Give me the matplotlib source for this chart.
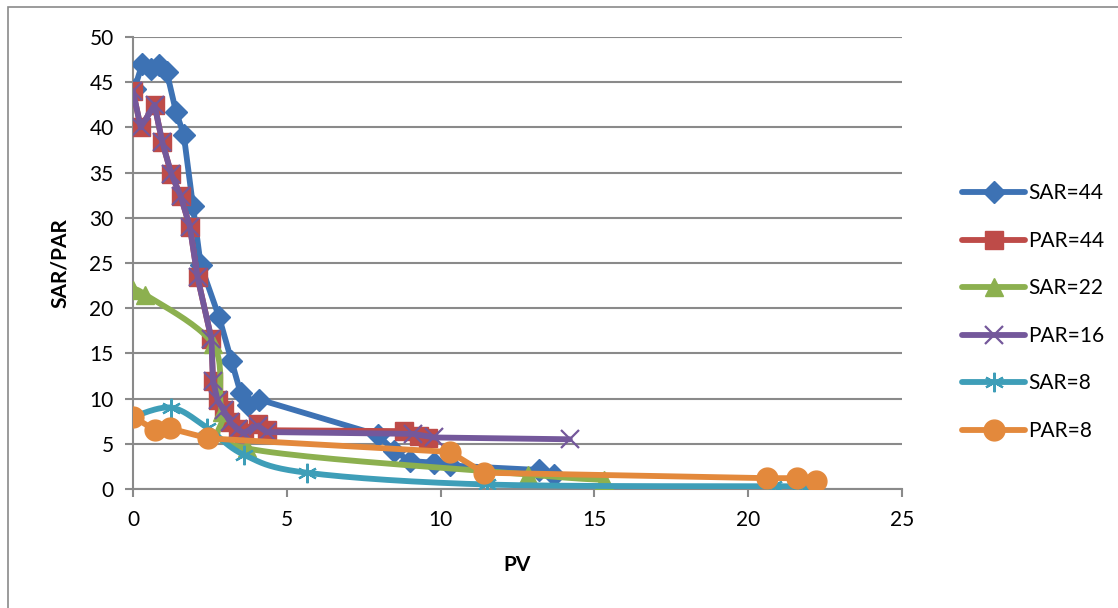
import numpy as np
import matplotlib

matplotlib.use("Agg")
import matplotlib.pyplot as plt
from matplotlib.patches import Rectangle

plt.rcParams["font.family"] = ["Lato", "DejaVu Sans"]

# --- data ------------------------------------------------------------------
sar44_x = [0.05, 0.3, 0.6, 0.85, 1.1, 1.4, 1.65, 1.95, 2.2, 2.8, 3.2, 3.5, 3.75,
           4.1, 7.95, 8.5, 9.0, 9.8, 10.3, 13.2, 13.7]
sar44_y = [44.3, 47.0, 46.5, 46.9, 46.1, 41.7, 39.2, 31.3, 24.8, 19.0, 14.2, 10.6,
           9.3, 9.9, 6.0, 4.2, 3.1, 2.9, 2.6, 2.1, 1.6]

par44_x = [0, 0.25, 0.7, 0.95, 1.25, 1.55, 1.85, 2.1, 2.55, 2.6, 2.75, 2.95, 3.15,
           3.4, 3.6, 4.05, 4.35, 8.8, 9.3, 9.6]
par44_y = [44, 40, 42.5, 38.4, 34.8, 32.4, 29.0, 23.4, 16.6, 12.0, 9.8, 8.7, 7.4,
           6.6, 6.2, 7.2, 6.5, 6.4, 5.9, 5.6]

sar22_x = [0, 0.4, 2.6, 2.9, 3.7, 12.85, 15.3]
sar22_y = [22, 21.5, 16.0, 8.5, 4.5, 1.6, 1.0]

par16_x = [0, 0.25, 0.7, 0.95, 1.25, 1.55, 1.85, 2.1, 2.55, 2.6, 2.75, 2.95, 3.15,
           3.4, 3.6, 4.05, 4.35, 9.1, 9.8, 14.2]
par16_y = [44, 40, 42.5, 38.4, 34.8, 32.4, 29.0, 23.4, 16.6, 12.0, 9.8, 8.7, 7.4,
           6.6, 6.2, 7.0, 6.3, 6.1, 5.7, 5.5]

sar8_x = [0, 1.25, 2.4, 3.6, 5.65, 11.5, 20.8, 21.7, 22.2]
sar8_y = [8.0, 9.0, 6.8, 3.8, 1.8, 0.5, 0.3, 0.3, 0.3]

par8_x = [0, 0.72, 1.2, 2.45, 10.3, 11.4, 20.6, 21.6, 22.2]
par8_y = [8.0, 6.5, 6.7, 5.6, 4.1, 1.8, 1.2, 1.2, 0.9]


def smooth(x, y, n=24):
    """Excel-like smoothed line (Catmull-Rom as cubic Bezier)."""
    p = np.column_stack([x, y]).astype(float)
    p = np.vstack([p[0], p, p[-1]])
    t = np.linspace(0, 1, n)[:, None]
    segs = []
    for i in range(1, len(p) - 2):
        p0, p1, p2, p3 = p[i - 1], p[i], p[i + 1], p[i + 2]
        c1 = p1 + (p2 - p0) / 6
        c2 = p2 - (p3 - p1) / 6
        segs.append((1 - t) ** 3 * p1 + 3 * (1 - t) ** 2 * t * c1
                    + 3 * (1 - t) * t ** 2 * c2 + t ** 3 * p2)
    s = np.vstack(segs)
    return s[:, 0], s[:, 1]


series = [
    ("SAR=44", sar44_x, sar44_y, "#3D72B4", "D", 11, False),
    ("PAR=44", par44_x, par44_y, "#BE4B48", "s", 13, False),
    ("SAR=22", sar22_x, sar22_y, "#8CB04F", "^", 13, True),
    ("PAR=16", par16_x, par16_y, "#74589B", "x", 13, False),
    ("SAR=8", sar8_x, sar8_y, "#3E9EB8", (6, 2, 0), 14, True),
    ("PAR=8", par8_x, par8_y, "#E3893C", "o", 15, False),
]

fig = plt.figure(figsize=(11.18, 6.08), dpi=100)
fig.patch.set_facecolor("white")
ax = fig.add_axes([133 / 1118, 1 - 489 / 608, 769 / 1118, 452 / 608])

handles = []
for i, (name, xs, ys, col, mk, ms, sm) in enumerate(series):
    lx, ly = smooth(xs, ys) if sm else (xs, ys)
    ax.plot(lx, ly, color=col, lw=4.2, solid_capstyle="round",
            solid_joinstyle="round", zorder=3 + i)
    thin = mk == "x" or isinstance(mk, tuple)
    ax.plot(xs, ys, ls="none", marker=mk, ms=ms, color=col,
            mec=col, mew=1.6 if thin else 1, zorder=3 + i)
    h, = ax.plot([], [], color=col, lw=4.2, marker=mk, ms=ms, mec=col,
                 mew=1.6 if thin else 1, solid_capstyle="round", label=name)
    handles.append(h)

ax.set_xlim(0, 25)
ax.set_ylim(0, 50)
ax.set_xticks(range(0, 26, 5))
ax.set_yticks(range(0, 51, 5))
ax.grid(axis="y", color="#8a8a8a", lw=1.5)
ax.set_axisbelow(True)
for s in ("top", "right"):
    ax.spines[s].set_visible(False)
for s in ("left", "bottom"):
    ax.spines[s].set_color("#8a8a8a")
    ax.spines[s].set_linewidth(1.5)
ax.tick_params(colors="#8a8a8a", width=1.5, length=6, labelsize=15,
               labelcolor="black")
ax.tick_params(axis="x", pad=9)
ax.tick_params(axis="y", pad=8)
ax.set_xlabel("PV", fontsize=15, fontweight="bold", labelpad=18)
ax.set_ylabel("SAR/PAR", fontsize=15, fontweight="bold", labelpad=14)

fig.legend(handles=handles, loc="upper left", bbox_to_anchor=(952 / 1118, 1 - 173 / 608),
           frameon=False, fontsize=15, handlelength=3.0, handletextpad=0.15,
           labelspacing=1.32, borderpad=0)

fig.add_artist(Rectangle((8 / 1118, -0.1), 1.2, 1.1 - 7 / 608, transform=fig.transFigure,
                         fill=False, ec="#8a8a8a", lw=1.2))

fig.savefig("out.png", dpi=100, facecolor="white")
